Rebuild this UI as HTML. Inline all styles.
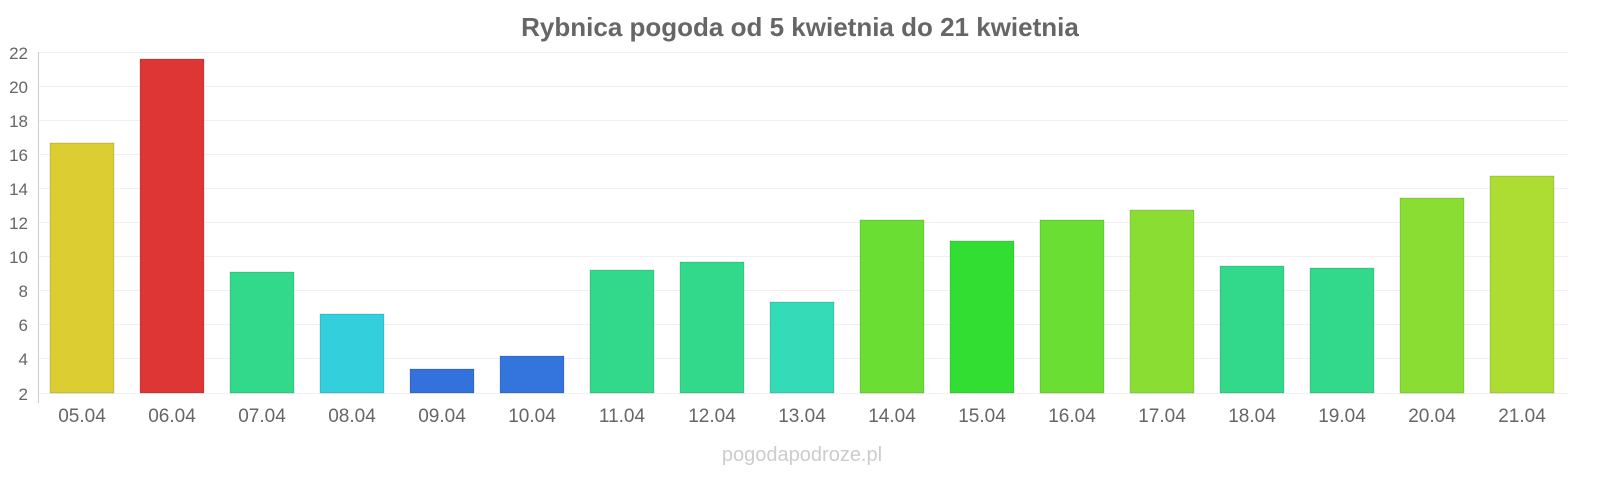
<!DOCTYPE html>
<html><head><meta charset="utf-8"><style>
body{margin:0;background:#fff;}
svg{display:block;font-family:"Liberation Sans",sans-serif;}
</style></head><body>
<svg width="1600" height="480" xmlns="http://www.w3.org/2000/svg">
<text x="800" y="36" text-anchor="middle" font-size="26" font-weight="bold" fill="#666">Rybnica pogoda od 5 kwietnia do 21 kwietnia</text>
<g stroke="#f0f0f0" stroke-width="1">
<line x1="38" x2="1568" y1="52.5" y2="52.5"/><line x1="38" x2="1568" y1="86.5" y2="86.5"/>
<line x1="38" x2="1568" y1="120.5" y2="120.5"/><line x1="38" x2="1568" y1="154.5" y2="154.5"/>
<line x1="38" x2="1568" y1="188.5" y2="188.5"/><line x1="38" x2="1568" y1="222.5" y2="222.5"/>
<line x1="38" x2="1568" y1="256.5" y2="256.5"/><line x1="38" x2="1568" y1="290.5" y2="290.5"/>
<line x1="38" x2="1568" y1="324.5" y2="324.5"/><line x1="38" x2="1568" y1="358.5" y2="358.5"/>
<line x1="38" x2="1568" y1="393.5" y2="393.5"/>
</g>
<line x1="38.5" x2="38.5" y1="52" y2="403" stroke="#ccc"/>
<g font-size="17" fill="#666" text-anchor="end">
<text x="28" y="59">22</text><text x="28" y="93">20</text><text x="28" y="127">18</text>
<text x="28" y="161">16</text><text x="28" y="195">14</text><text x="28" y="229">12</text>
<text x="28" y="263">10</text><text x="28" y="297">8</text><text x="28" y="331">6</text>
<text x="28" y="365">4</text><text x="28" y="400">2</text>
</g>
<g stroke-opacity="0.3" stroke="#000" stroke-width="0.5">
<rect x="50" y="143" width="64" height="250" fill="#dccd33"/>
<rect x="140" y="59" width="64" height="334" fill="#de3535"/>
<rect x="230" y="272" width="64" height="121" fill="#33d98a"/>
<rect x="320" y="314" width="64" height="79" fill="#33cfdc"/>
<rect x="410" y="369" width="64" height="24" fill="#3371dc"/>
<rect x="500" y="356" width="64" height="37" fill="#3375dc"/>
<rect x="590" y="270" width="64" height="123" fill="#33d98a"/>
<rect x="680" y="262" width="64" height="131" fill="#33d98a"/>
<rect x="770" y="302" width="64" height="91" fill="#33dbb7"/>
<rect x="860" y="220" width="64" height="173" fill="#6ade33"/>
<rect x="950" y="241" width="64" height="152" fill="#33de33"/>
<rect x="1040" y="220" width="64" height="173" fill="#6ade33"/>
<rect x="1130" y="210" width="64" height="183" fill="#8ade33"/>
<rect x="1220" y="266" width="64" height="127" fill="#33d98a"/>
<rect x="1310" y="268" width="64" height="125" fill="#33d98a"/>
<rect x="1400" y="198" width="64" height="195" fill="#8ade33"/>
<rect x="1490" y="176" width="64" height="217" fill="#addc33"/>
</g>
<g font-size="19" fill="#666" text-anchor="middle">
<text x="82" y="422">05.04</text><text x="172" y="422">06.04</text><text x="262" y="422">07.04</text>
<text x="352" y="422">08.04</text><text x="442" y="422">09.04</text><text x="532" y="422">10.04</text>
<text x="622" y="422">11.04</text><text x="712" y="422">12.04</text><text x="802" y="422">13.04</text>
<text x="892" y="422">14.04</text><text x="982" y="422">15.04</text><text x="1072" y="422">16.04</text>
<text x="1162" y="422">17.04</text><text x="1252" y="422">18.04</text><text x="1342" y="422">19.04</text>
<text x="1432" y="422">20.04</text><text x="1522" y="422">21.04</text>
</g>
<text x="802" y="461" text-anchor="middle" font-size="20" fill="#ccc">pogodapodroze.pl</text>
</svg>
</body></html>
